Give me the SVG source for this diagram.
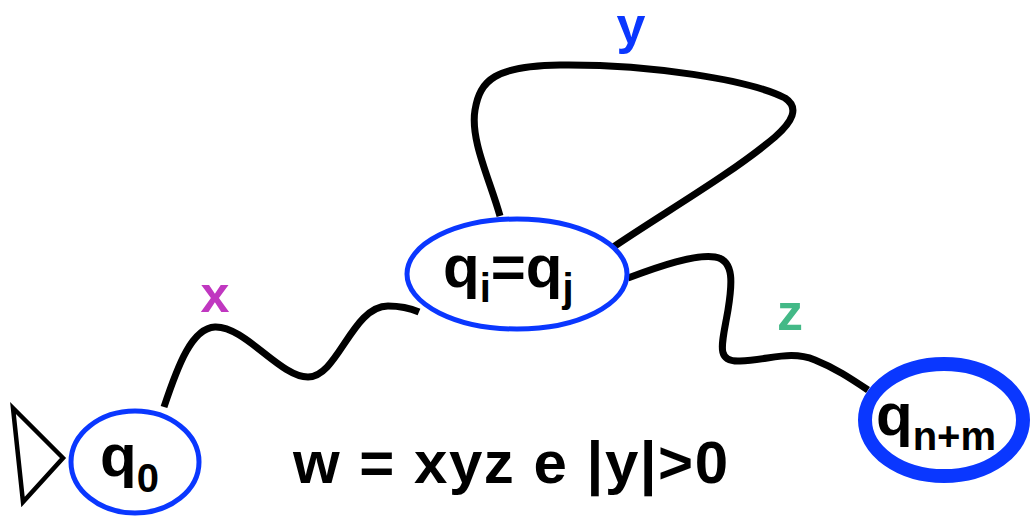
<svg xmlns="http://www.w3.org/2000/svg" width="1035" height="517" viewBox="0 0 1035 517">
<style>
.st{fill:#fff;stroke:#0a37ff;stroke-width:5}
.fin{fill:#fff;stroke:#0a37ff;stroke-width:14}
.t{font-family:"Liberation Sans",Arial,sans-serif;font-weight:bold;fill:#000}
.e{fill:none;stroke:#000;stroke-width:7;stroke-linecap:butt}
.lbl{font-family:"Liberation Sans",Arial,sans-serif;font-weight:bold;font-size:52px;text-anchor:middle}
</style>
<rect width="1035" height="517" fill="#fff"/>
<g id="connectors">
<path class="e" d="M164,407 C178,365 192,328 215,327 C245,326 280,377 308,377 C338,377 352,306 388,306 C402,306 412,309 419,312"/>
<path class="e" d="M500,216 C490,180 470,140 475,110 C480,80 495,66 560,65 C650,64 750,80 785,98 C800,108 792,122 775,137 C730,175 660,215 612,248"/>
<path class="e" d="M628,278 C660,266 695,254 715,257 C735,260 732,285 728,310 C722,345 715,362 740,361 C770,360 790,350 815,360 C835,368 850,378 868,390"/>
<polygon points="13,408 63,458 23,502" fill="none" stroke="#000" stroke-width="4.5"/>
<text class="lbl" x="215" y="312" fill="#c037c0">x</text>
<text class="lbl" x="631" y="43" fill="#0a37ff">y</text>
<text class="lbl" x="790" y="330" fill="#43b987">z</text>
</g>
<g id="q0">
<ellipse class="st" cx="135" cy="462" rx="64" ry="51"/>
<text class="t" x="100" y="476" font-size="60">q<tspan font-size="40" dy="16">0</tspan></text>
</g>
<g id="qi">
<ellipse class="st" cx="517" cy="274" rx="110" ry="55"/>
<text class="t" x="443" y="287" font-size="60">q<tspan font-size="40" dy="15">i</tspan><tspan dy="-15">=q</tspan><tspan font-size="40" dy="15">j</tspan></text>
</g>
<g id="qnm">
<ellipse class="fin" cx="944" cy="420" rx="79" ry="56"/>
<text class="t" x="876" y="435" font-size="60">q<tspan font-size="40" dy="15">n+m</tspan></text>
</g>
<text class="t" x="293" y="483" font-size="60" textLength="435">w = xyz e |y|&gt;0</text>
</svg>
